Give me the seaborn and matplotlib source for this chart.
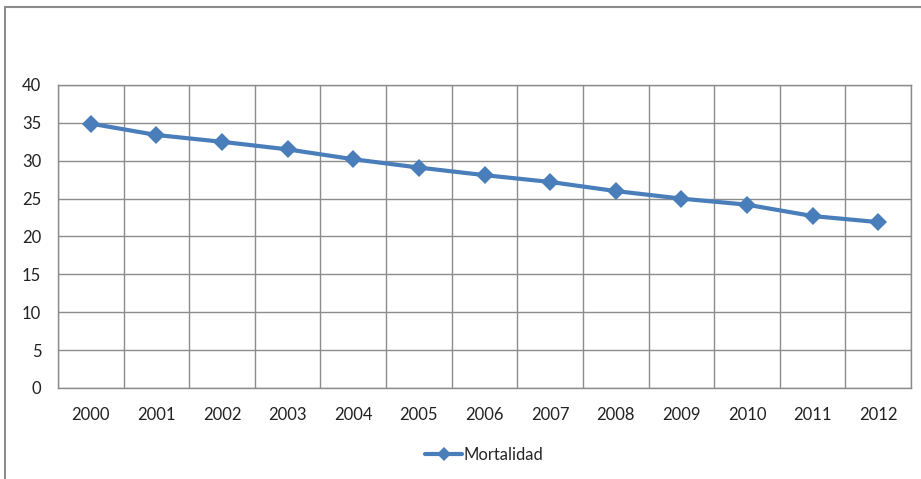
import matplotlib
matplotlib.use('Agg')
import matplotlib.pyplot as plt
from matplotlib.patches import Rectangle
from matplotlib.ticker import MultipleLocator
import pandas as pd
import seaborn as sns

years = list(range(2000, 2013))
mortalidad = [34.9, 33.4, 32.5, 31.5, 30.2, 29.1, 28.1, 27.2, 26.0, 25.0, 24.2, 22.7, 21.9]
series_name = 'Mortalidad'

sns.set_style('white')
plt.rcParams['font.family'] = ['Lato', 'DejaVu Sans']

df = pd.DataFrame({'year': years, 'value': mortalidad})

fig = plt.figure(figsize=(9.21, 4.79), dpi=100)
ax = fig.add_axes([58 / 921, 1 - 388 / 479, (911 - 58) / 921, (388 - 85) / 479])

sns.lineplot(data=df, x='year', y='value', ax=ax, color='#4a7ebb', linewidth=3,
             marker='D', markersize=9, markeredgewidth=0, label=series_name)

ax.set_xlim(years[0] - 0.5, years[-1] + 0.5)
ax.set_ylim(0, 40)
ax.set_xticks(years)
ax.set_xticklabels([str(y) for y in years])
ax.xaxis.set_minor_locator(MultipleLocator(1, offset=0.5))
ax.yaxis.set_major_locator(MultipleLocator(5))
ax.grid(which='major', axis='y', color='#8c8c8c', linewidth=1)
ax.grid(which='minor', axis='x', color='#8c8c8c', linewidth=1)
ax.set_axisbelow(True)
ax.tick_params(axis='both', which='both', length=0, labelsize=12, colors='#222222')
ax.tick_params(axis='x', pad=14)
ax.tick_params(axis='y', pad=12)
ax.set_xlabel('')
ax.set_ylabel('')
for s in ax.spines.values():
    s.set_color('#8c8c8c')
    s.set_linewidth(1)

leg = ax.legend(loc='upper center', bbox_to_anchor=(0.5, -0.145), frameon=False,
                fontsize=12, handlelength=2.2, handletextpad=0.1, markerscale=0.8)

fig.patches.append(Rectangle((5 / 921, -0.1), 1.2, 1 - 7 / 479 + 0.1,
                             transform=fig.transFigure, fill=False,
                             edgecolor='#8c8c8c', linewidth=1.5))

fig.savefig('out.png', dpi=100)
